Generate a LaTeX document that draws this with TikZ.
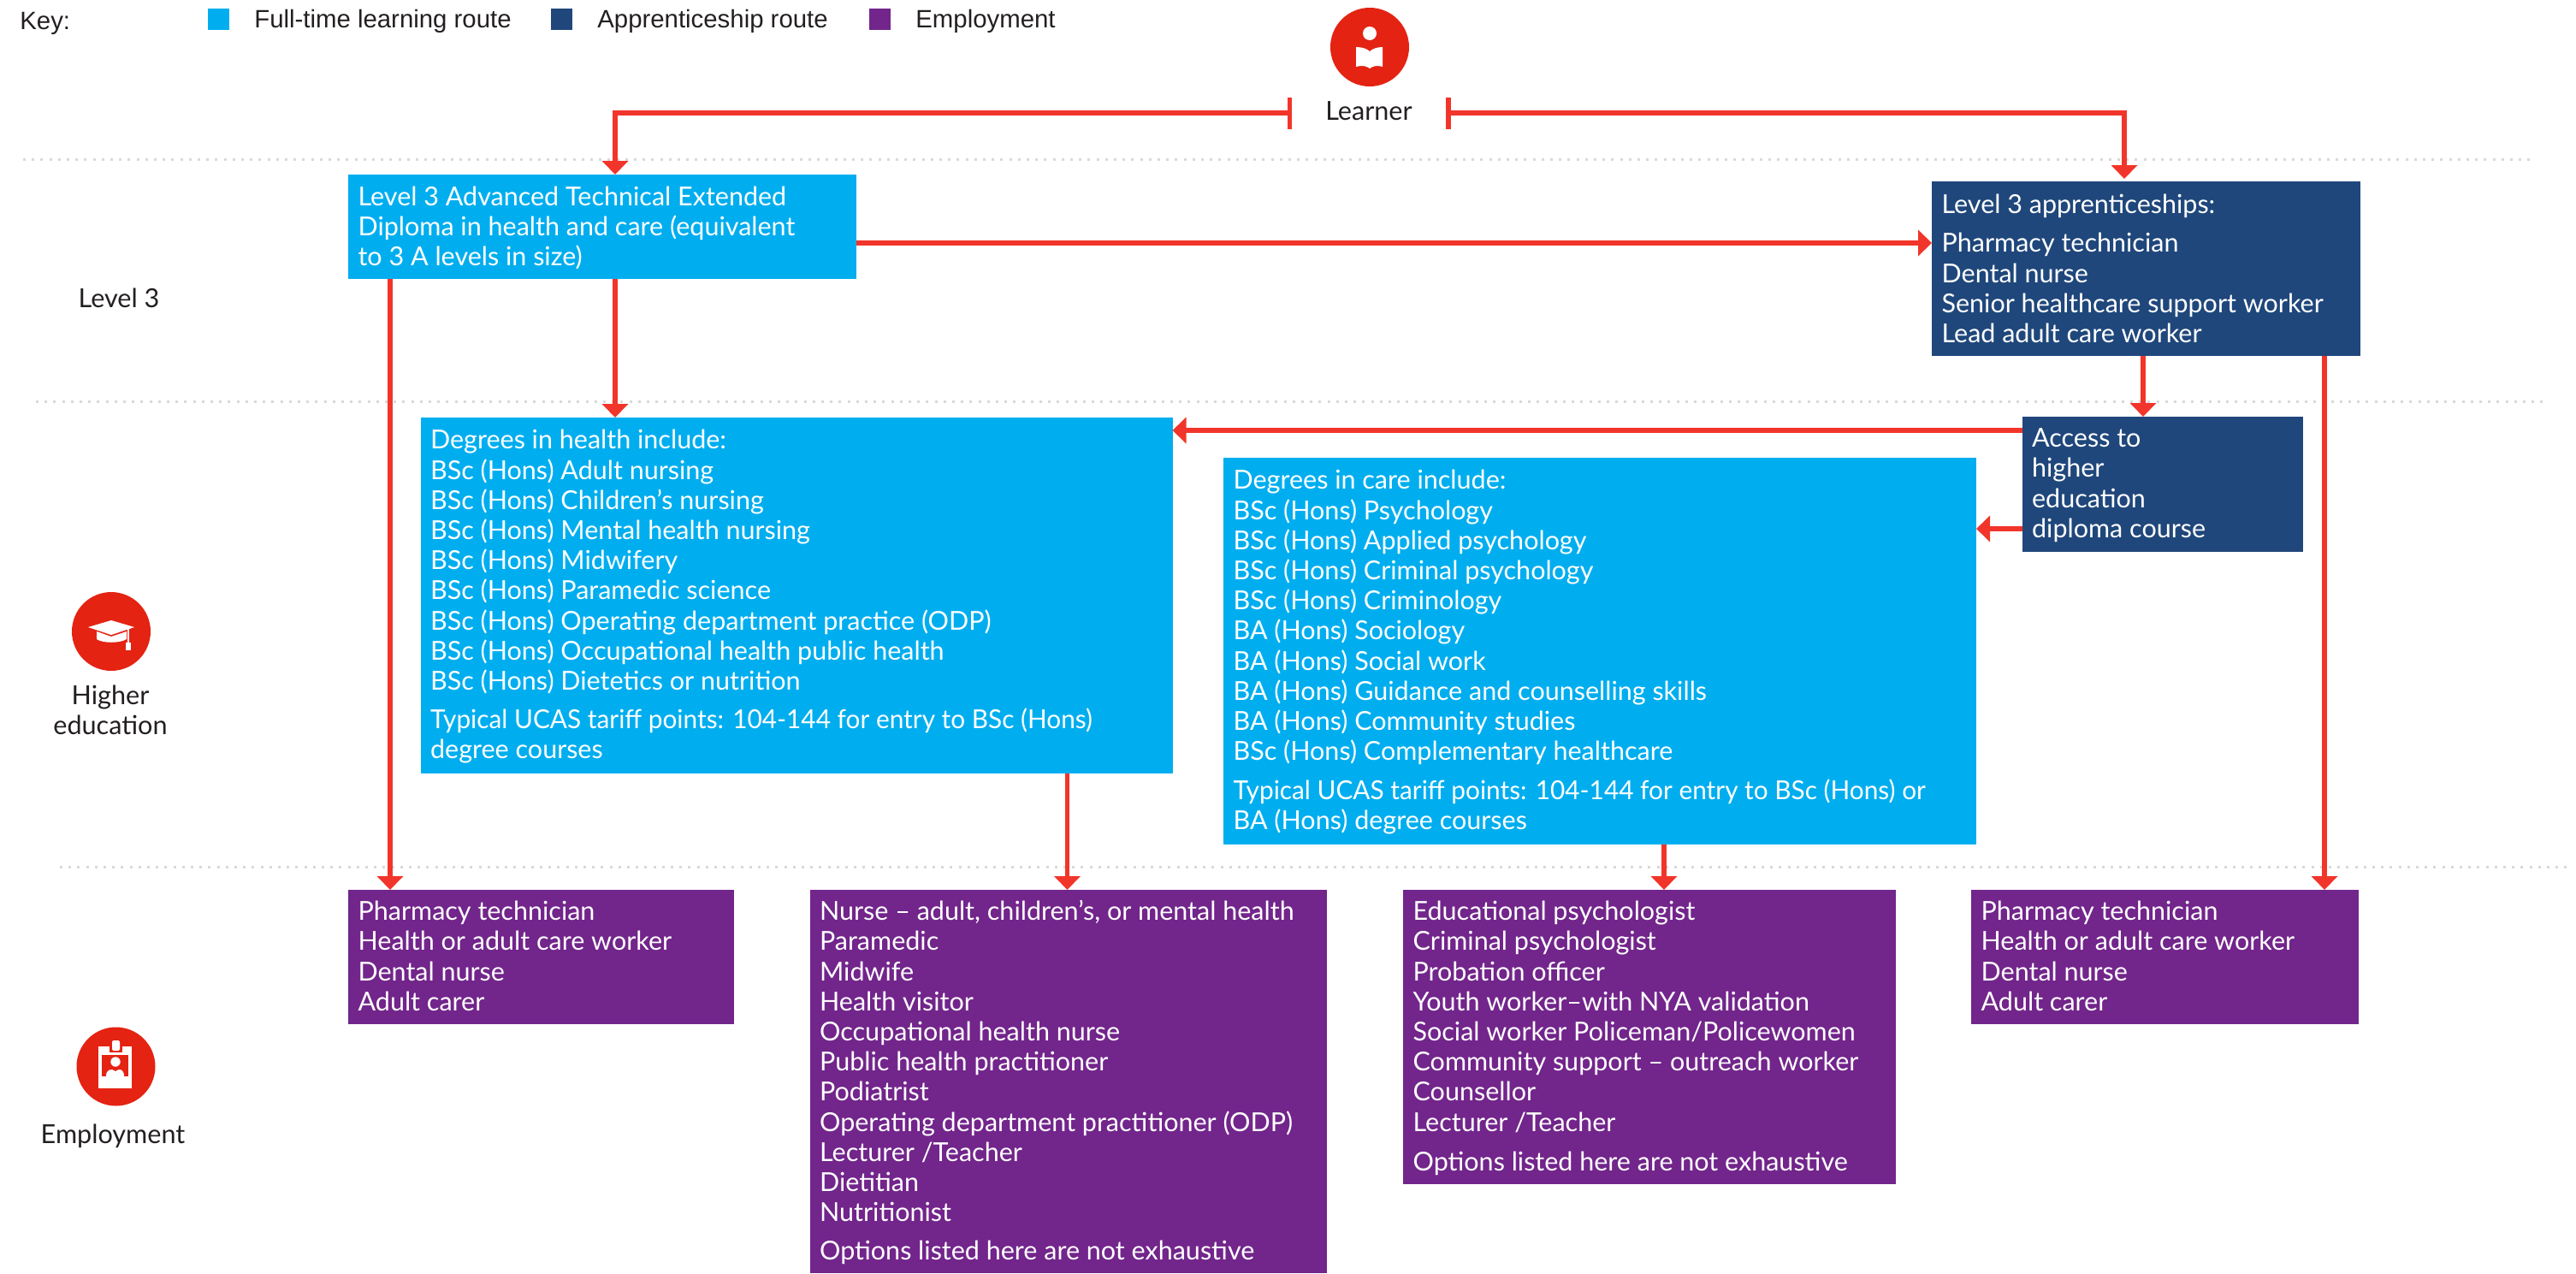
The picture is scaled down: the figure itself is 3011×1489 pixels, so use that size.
\documentclass[tikz,border=0pt]{standalone}
\usepackage{fontspec}
\usepackage{graphicx}
\setmainfont{Lato}
\newfontfamily\keyfont{Liberation Sans}
\usetikzlibrary{arrows.meta,calc}
\definecolor{cblue}{HTML}{00AEEF}
\definecolor{cnavy}{HTML}{1F477B}
\definecolor{cpurple}{HTML}{72258B}
\definecolor{cline}{HTML}{F2352A}
\definecolor{cicon}{HTML}{E42313}
\definecolor{ctext}{HTML}{231F20}
\definecolor{cdot}{HTML}{D9D9D9}
% width, height, first baseline, text
\newcommand\inbox[4]{\begin{minipage}[t][#2pt][t]{#1pt}\setlength\parindent{0pt}\setlength\leftskip{5.8pt}\fontsize{15.25pt}{17.6pt}\selectfont\rule{0pt}{#3pt}\ignorespaces#4\end{minipage}}
\newcommand\tight[1]{\scalebox{0.977}[1]{#1}}
\tikzset{
  x=0.5pt,y=-0.5pt,
  rbox/.style={anchor=north west,inner sep=0pt,outer sep=0pt,text=white},
  conn/.style={draw=cline,line width=2.6pt,-{Triangle[width=15pt,length=8pt]}},
  barconn/.style={draw=cline,line width=2.6pt,{Bar[width=18.5pt,line width=2.8pt]}-{Triangle[width=15pt,length=8pt]}},
  sep/.style={draw=cdot,line width=1.5pt,dash pattern=on 1.5pt off 3.6pt},
  lab/.style={text=ctext,font=\fontsize{15.3pt}{18pt}\selectfont,align=center,inner sep=0pt},
  keyt/.style={text=ctext,font=\keyfont\fontsize{14.68pt}{17pt}\selectfont,anchor=west,inner sep=0pt},
  swatch/.style={anchor=north west,inner sep=0pt,minimum width=12.25pt,minimum height=12.5pt},
  disc/.style={circle,fill=cicon,inner sep=0pt,minimum size=46pt},
}
\begin{document}
\begin{tikzpicture}
\useasboundingbox (0,0) rectangle (3011,1489);
% separators
\draw[sep] (27,186) -- (2960,186);
\draw[sep] (42,469) -- (2974,469);
\draw[sep] (70,1013) -- (3005,1013);
% key
\node[keyt] (key) at (23,27) {Key:};
\node[swatch,fill=cblue] (k1) at (243,10) {};
\node[keyt] (k1t) at (297,24.5) {Full-time learning route};
\node[swatch,fill=cnavy] (k2) at (644,10) {};
\node[keyt] (k2t) at (698,24.5) {Apprenticeship route};
\node[swatch,fill=cpurple] (k3) at (1016,10) {};
\node[keyt] (k3t) at (1070,24.5) {Employment};
% side labels and icons
\node[disc] (ilearn) at (1601,55) {};
\fill[white] (1601,39) circle (8);
\fill[white] (1585,55) .. controls (1592,55) and (1598,57) .. (1601,60) .. controls (1604,57) and (1610,55) .. (1616,55) -- (1616,78) .. controls (1610,76) and (1605,77) .. (1601,80) .. controls (1597,77) and (1592,76) .. (1585,78) -- cycle;
\node[lab,minimum width=89.5pt] (learner) at (1600,130) {Learner};
\node[lab] (l3) at (139,348) {Level 3};
\node[disc] (ihe) at (130,738) {};
\fill[white] (103,733) -- (130,725) -- (157,733) -- (130,742) -- cycle;
\fill[white] (113,738) -- (130,744) -- (148,738) -- (148,747) .. controls (140,752) and (120,752) .. (113,747) -- cycle;
\draw[white,line width=.6pt] (150,733) -- (150,752);
\fill[white] (147,751) rectangle (153,760);
\node[lab] (he) at (129,830) {Higher\\[-.3pt]education};
\node[disc] (iemp) at (135.5,1246.5) {};
\fill[white] (115,1223) rectangle (154,1272);
\fill[cicon] (119,1233) rectangle (150,1258);
\fill[cicon] (128,1222) rectangle (143,1230);
\fill[white,rounded corners=1pt] (131,1216) rectangle (140,1228);
\fill[white] (135,1241) circle (5.7);
\fill[white] (124,1258) .. controls (124,1250) and (130,1248) .. (135,1252) .. controls (140,1248) and (145,1250) .. (145,1258) -- cycle;
\node[lab] (emp) at (132,1328) {Employment};
% boxes
\node[rbox,fill=cblue] (a) at (407,204) {\inbox{297}{61}{18.1}{Level 3 Advanced Technical Extended\\Diploma in health and care (equivalent\\to 3 A levels in size)}};
\node[rbox,fill=cnavy] (b) at (2258,212) {\inbox{250.5}{102}{18.8}{Level 3 apprenticeships:\\[5pt]Pharmacy technician\\Dental nurse\\Senior healthcare support worker\\Lead adult care worker}};
\node[rbox,fill=cnavy] (c) at (2363.5,487) {\inbox{164}{79}{17.8}{Access to\\higher\\education\\diploma course}};
\node[rbox,fill=cblue] (h) at (491.5,488) {\inbox{439.5}{208}{18.4}{Degrees in health include:\\BSc (Hons) Adult nursing\\BSc (Hons) Children’s nursing\\BSc (Hons) Mental health nursing\\BSc (Hons) Midwifery\\BSc (Hons) Paramedic science\\BSc (Hons) Operating department practice (ODP)\\BSc (Hons) Occupational health public health\\BSc (Hons) Dietetics or nutrition\\[4.9pt]\tight{Typical UCAS tariff points: 104-144 for entry to BSc (Hons)}\\degree courses}};
\node[rbox,fill=cblue] (k) at (1430,535) {\inbox{440}{226}{18.4}{Degrees in care include:\\BSc (Hons) Psychology\\BSc (Hons) Applied psychology\\BSc (Hons) Criminal psychology\\BSc (Hons) Criminology\\BA (Hons) Sociology\\BA (Hons) Social work\\BA (Hons) Guidance and counselling skills\\BA (Hons) Community studies\\BSc (Hons) Complementary healthcare\\[5.4pt]\tight{Typical UCAS tariff points: 104-144 for entry to BSc (Hons) or}\\BA (Hons) degree courses}};
\node[rbox,fill=cpurple] (p1) at (407,1040) {\inbox{225.5}{78.5}{17.8}{Pharmacy technician\\Health or adult care worker\\Dental nurse\\Adult carer}};
\node[rbox,fill=cpurple] (p2) at (946.5,1040) {\inbox{302}{224}{17.8}{Nurse – adult, children's, or mental health\\Paramedic\\Midwife\\Health visitor\\Occupational health nurse\\Public health practitioner\\Podiatrist\\Operating department practitioner (ODP)\\Lecturer /Teacher\\Dietitian\\Nutritionist\\[5pt]Options listed here are not exhaustive}};
\node[rbox,fill=cpurple] (p3) at (1640,1040) {\inbox{288}{172}{17.8}{Educational psychologist\\Criminal psychologist\\Probation officer\\Youth worker–with NYA validation\\Social worker Policeman/Policewomen\\Community support – outreach worker\\Counsellor\\Lecturer /Teacher\\[5.4pt]Options listed here are not exhaustive}};
\node[rbox,fill=cpurple] (p4) at (2304,1040) {\inbox{226.5}{78.5}{17.8}{Pharmacy technician\\Health or adult care worker\\Dental nurse\\Adult carer}};
% connectors
\draw[barconn] ([yshift=-1pt]learner.west) -| ([xshift=156pt]a.north west);
\draw[barconn] ([yshift=-1pt]learner.east) -| ([xshift=112.5pt,yshift=1.5pt]b.north west);
\draw[conn] ([yshift=-40pt]a.north east) -- ([yshift=-40pt]a.north east -| b.west);
\draw[conn] ([xshift=24.5pt]a.south west) -- ([xshift=24.5pt]p1.north west |- p1.north);
\draw[conn] ([xshift=156pt]a.south west) -- ([xshift=156pt]a.south west |- h.north);
\draw[conn] ([xshift=123.5pt]b.south west) -- ([xshift=123.5pt]b.south west |- c.north);
\draw[conn] ([xshift=229.5pt]b.south west) -- ([xshift=229.5pt]b.south west |- p4.north);
\draw[conn] ([yshift=-8pt]c.north west) -- ([yshift=-8pt]c.north west -| h.east);
\draw[conn] ([yshift=-65.5pt]c.north west) -- ([yshift=-65.5pt]c.north west -| k.east);
\draw[conn] ([xshift=378pt]h.south west) -- ([xshift=378pt]h.south west |- p2.north);
\draw[conn] ([xshift=257.5pt]k.south west) -- ([xshift=257.5pt]k.south west |- p3.north);
\end{tikzpicture}
\end{document}
